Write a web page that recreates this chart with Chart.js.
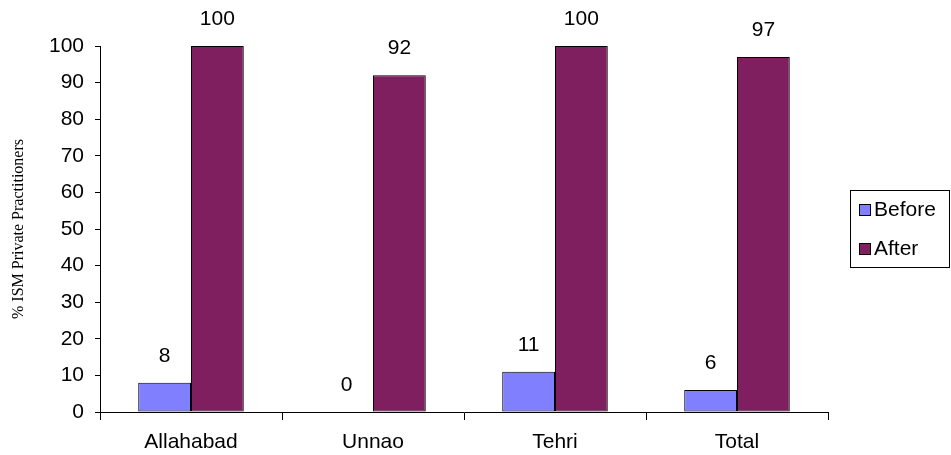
<!DOCTYPE html>
<html>
<head>
<meta charset="utf-8">
<script src="https://cdn.jsdelivr.net/npm/chart.js@4/dist/chart.umd.min.js"></script>
<style>
  html, body { margin: 0; padding: 0; background: #fff; }
  #wrap { width: 951px; height: 455px; }
</style>
</head>
<body>
<div id="wrap"><canvas id="chart"></canvas></div>
<script>
const categories = ['Allahabad', 'Unnao', 'Tehri', 'Total'];
const beforeValues = [8, 0, 11, 6];
const afterValues = [100, 92, 100, 97];
const yTicks = [0, 10, 20, 30, 40, 50, 60, 70, 80, 90, 100];

const FONT = 'Liberation Sans, Arial, sans-serif';
const FONT_SIZE = 21;

// value labels above bars
const valueLabels = {
    id: 'valueLabels',
    afterDatasetsDraw(chart) {
        const ctx = chart.ctx;
        ctx.save();
        ctx.font = FONT_SIZE + 'px ' + FONT;
        ctx.fillStyle = '#000';
        ctx.textAlign = 'center';
        ctx.textBaseline = 'middle';
        chart.data.datasets.forEach((ds, i) => {
            chart.getDatasetMeta(i).data.forEach((bar, j) => {
                ctx.fillText(String(ds.data[j]), bar.x, bar.y - 27);
            });
        });
        ctx.restore();
    }
};

// boxed legend on the right
const boxLegend = {
    id: 'boxLegend',
    afterDraw(chart) {
        const ctx = chart.ctx;
        const left = 850, top = 190, w = 99, h = 77;
        ctx.save();
        ctx.strokeStyle = '#000';
        ctx.lineWidth = 1;
        ctx.strokeRect(left + 0.5, top + 0.5, w, h);
        ctx.font = FONT_SIZE + 'px ' + FONT;
        ctx.textBaseline = 'middle';
        ctx.textAlign = 'left';
        chart.data.datasets.forEach((ds, i) => {
            const cy = top + 19 + i * 39;
            ctx.fillStyle = ds.backgroundColor;
            ctx.fillRect(859, cy - 5, 12, 12);
            ctx.strokeRect(859.5, cy - 4.5, 11, 11);
            ctx.fillStyle = '#000';
            ctx.fillText(ds.label, 874, cy + 1);
        });
        ctx.restore();
    }
};

new Chart(document.getElementById('chart'), {
    type: 'bar',
    data: {
        labels: categories,
        datasets: [
            {
                label: 'Before',
                data: beforeValues,
                backgroundColor: '#8080ff',
                borderColor: '#000',
                borderWidth: 1,
                borderSkipped: false
            },
            {
                label: 'After',
                data: afterValues,
                backgroundColor: '#7f1f5f',
                borderColor: '#000',
                borderWidth: 1,
                borderSkipped: false
            }
        ]
    },
    options: {
        responsive: true,
        maintainAspectRatio: false,
        animation: false,
        layout: { padding: { top: 46, right: 123, left: 0, bottom: 0 } },
        datasets: { bar: { categoryPercentage: 0.58, barPercentage: 1.0 } },
        scales: {
            x: {
                grid: { display: true, drawOnChartArea: false, offset: true, color: '#000', tickLength: 8 },
                border: { display: true, color: '#000', width: 1 },
                ticks: { color: '#000', font: { family: FONT, size: FONT_SIZE }, padding: 10, maxRotation: 0 },
                afterFit: (scale) => { scale.height = 43; }
            },
            y: {
                min: 0,
                max: 100,
                afterBuildTicks: (scale) => { scale.ticks = yTicks.map(v => ({ value: v })); },
                grid: { display: true, drawOnChartArea: false, color: '#000', tickLength: 5 },
                border: { display: true, color: '#000', width: 1 },
                ticks: { color: '#000', font: { family: FONT, size: FONT_SIZE }, padding: 11 },
                title: {
                    display: true,
                    text: '% ISM Private Practitioners',
                    color: '#000',
                    font: { family: 'Liberation Serif, Times New Roman, serif', size: 16 },
                    padding: { top: 9, bottom: 0 }
                },
                afterFit: (scale) => { scale.width = 100; }
            }
        },
        plugins: {
            legend: { display: false },
            tooltip: { enabled: false }
        }
    },
    plugins: [valueLabels, boxLegend]
});
</script>
</body>
</html>
